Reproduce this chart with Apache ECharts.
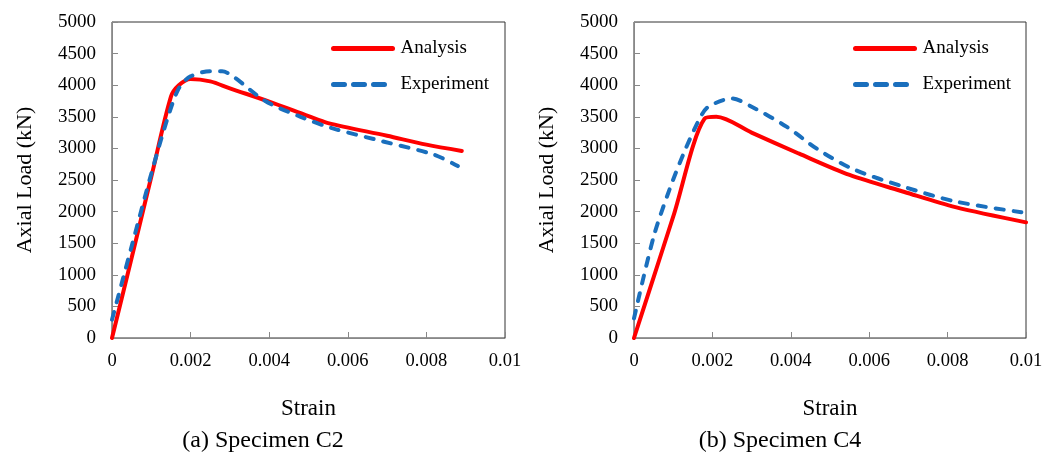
<!DOCTYPE html>
<html><head><meta charset="utf-8">
<script src="https://cdn.jsdelivr.net/npm/echarts@6/dist/echarts.min.js"></script>
<style>html,body{margin:0;padding:0;background:#fff}#c{width:1046px;height:457px}</style>
</head><body><div id="c"></div>
<script>
// Specimen C2
const c2Analysis = [[0,0],[0.0005,1270],[0.001,2550],[0.0015,3820],[0.0017,4000],[0.002,4100],[0.0025,4060],[0.003,3950],[0.004,3740],[0.005,3510],[0.0055,3400],[0.007,3200],[0.008,3060],[0.0089,2960]];
const c2Experiment = [[0,290],[0.0005,1450],[0.001,2600],[0.0014,3450],[0.0017,3950],[0.002,4140],[0.0025,4220],[0.0028,4220],[0.0031,4130],[0.0039,3750],[0.0048,3500],[0.0056,3320],[0.0069,3110],[0.0082,2900],[0.0088,2720]];
// Specimen C4
const c4Analysis = [[0,0],[0.0005,960],[0.001,1920],[0.0018,3470],[0.0021,3500],[0.003,3250],[0.0042,2920],[0.0055,2580],[0.0069,2310],[0.0082,2070],[0.01,1830]];
const c4Experiment = [[0,310],[0.0005,1600],[0.0009,2340],[0.0013,2970],[0.0017,3500],[0.0019,3660],[0.0025,3790],[0.003,3660],[0.0039,3340],[0.0047,2980],[0.0056,2670],[0.0069,2390],[0.0082,2160],[0.01,1980]];
const xTicks = {min:0, max:0.01, interval:0.002};
const yTicks = {min:0, max:5000, interval:500};
const captions = ['(a) Specimen C2','(b) Specimen C4'];
const seriesNames = ['Analysis','Experiment'];

const serif = '"Liberation Serif","Times New Roman",serif';
const RED = '#ff0000', BLUE = '#1a6fbd';
const grids = [{left:112, top:22, width:393, height:316},{left:634, top:22, width:392, height:316}];

function xAxis(i){return {type:'value', gridIndex:i, min:xTicks.min, max:xTicks.max, interval:xTicks.interval,
  name:'Strain', nameLocation:'middle', nameGap:59, nameTextStyle:{fontFamily:serif, fontSize:23, color:'#000'},
  axisLine:{onZero:false, lineStyle:{color:'#888', width:1}}, axisTick:{inside:true, length:6, lineStyle:{color:'#888'}},
  axisLabel:{fontFamily:serif, fontSize:18.5, color:'#000', margin:14, formatter:v=>String(+v.toFixed(3))},
  splitLine:{show:false}};}
function yAxis(i){return {type:'value', gridIndex:i, min:yTicks.min, max:yTicks.max, interval:yTicks.interval,
  name:'Axial Load (kN)', nameLocation:'middle', nameGap:76, nameTextStyle:{fontFamily:serif, fontSize:22, color:'#000'},
  axisLine:{show:true, lineStyle:{color:'#888', width:1}}, axisTick:{show:true, inside:true, length:6, lineStyle:{color:'#888'}},
  axisLabel:{fontFamily:serif, fontSize:19, color:'#000', margin:16, formatter:v=>String(v)},
  splitLine:{show:false}};}
function ser(name, data, i, dashed){
  return {type:'line', name, data, xAxisIndex:i, yAxisIndex:i, showSymbol:false, symbol:'none', smooth:0.3,
    lineStyle:{color: dashed?BLUE:RED, width:4, type: dashed?[8,10]:'solid', cap:'round'}, itemStyle:{color: dashed?BLUE:RED}};
}
function legend(left){
  return {left, top:39, orient:'vertical', itemWidth:59, itemHeight:14, itemGap:17, selectedMode:false, padding:0,
    data: [{name:seriesNames[0]}, {name:seriesNames[1], lineStyle:{type:[11,9]}}],
    itemStyle:{opacity:0}, lineStyle:{width:5, cap:'round'},
    textStyle:{fontFamily:serif, fontSize:19, color:'#000', padding:[0,0,0,3]}};
}
const chart = echarts.init(document.getElementById('c'), null, {renderer:'canvas'});
chart.setOption({
  animation:false,
  grid: grids.map(g=>Object.assign({show:true, borderColor:'#333', borderWidth:1, backgroundColor:'transparent'}, g)),
  xAxis:[xAxis(0), xAxis(1)],
  yAxis:[yAxis(0), yAxis(1)],
  legend:[legend(331), legend(853)],
  title: captions.map((t,i)=>({text:t, left: i===0?263:780, top:429, textAlign:'center', padding:0,
     textStyle:{fontFamily:serif, fontSize:24, fontWeight:'normal', color:'#000'}})),
  series:[
    ser(seriesNames[0], c2Analysis, 0, false),
    ser(seriesNames[1], c2Experiment, 0, true),
    ser(seriesNames[0], c4Analysis, 1, false),
    ser(seriesNames[1], c4Experiment, 1, true)
  ]
});
</script></body></html>
